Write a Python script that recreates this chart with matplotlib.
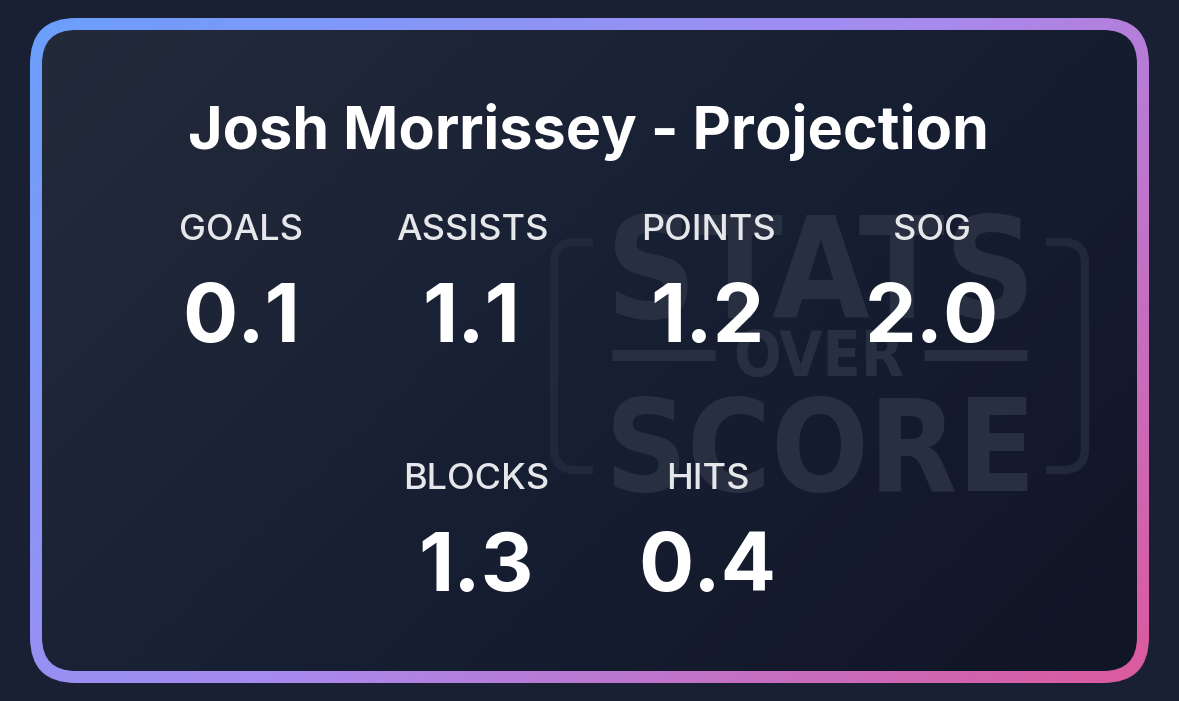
import matplotlib.pyplot as plt
from matplotlib.colors import LinearSegmentedColormap
from matplotlib.patches import FancyBboxPatch, PathPatch
from matplotlib.path import Path
import numpy as np

title = "Josh Morrissey - Projection"
labels_top = ["GOALS", "ASSISTS", "POINTS", "SOG"]
values_top = ["0.1", "1.1", "1.2", "2.0"]
labels_bottom = ["BLOCKS", "HITS"]
values_bottom = ["1.3", "0.4"]

W, H = 1179, 701
plt.rcParams['font.family'] = ['Inter', 'DejaVu Sans']

fig = plt.figure(figsize=(W / 100, H / 100), dpi=100, facecolor='#1a2033')
ax = fig.add_axes([0, 0, 1, 1])
ax.set_xlim(0, W)
ax.set_ylim(H, 0)
ax.axis('off')


def rounded(x0, y0, x1, y1, r):
    return FancyBboxPatch((x0 + r, y0 + r), x1 - x0 - 2 * r, y1 - y0 - 2 * r,
                          boxstyle=f"round,pad={r},rounding_size={r}",
                          linewidth=0, facecolor='none', transform=ax.transData)


def gradient(x0, y0, x1, y1, colors, z):
    # css style 135deg gradient
    xs, ys = np.meshgrid(np.linspace(0, x1 - x0, 400), np.linspace(0, y1 - y0, 300))
    t = (xs + ys) / ((x1 - x0) + (y1 - y0))
    cmap = LinearSegmentedColormap.from_list('g', colors)
    return ax.imshow(t, cmap=cmap, vmin=0, vmax=1, extent=(x0, x1, y1, y0),
                     aspect='auto', zorder=z, interpolation='bilinear')


# border
box = rounded(30, 18, 1149, 683, 46)
ax.add_patch(box)
im = gradient(30, 18, 1149, 683, [(0, '#6b9ffc'), (0.5, '#a78bf0'), (1, '#dc5a9e')], 1)
im.set_clip_path(box)

# card
inner = rounded(42, 30, 1137, 671, 34)
ax.add_patch(inner)
im2 = gradient(42, 30, 1137, 671, [(0, '#232b3b'), (0.5, '#171f33'), (1, '#111626')], 2)
im2.set_clip_path(inner)
ax.set_xlim(0, W)
ax.set_ylim(H, 0)

# watermark
wm = '#272f41'
ax.text(821, 318, "STATS", color=wm, fontsize=101, fontweight='bold', family='DejaVu Sans',
        stretch='condensed', ha='center', va='baseline', zorder=3)
ax.text(819, 376, "OVER", color=wm, fontsize=45, fontweight='bold', family='DejaVu Sans',
        stretch='condensed', ha='center', va='baseline', zorder=3)
ax.text(821, 491, "SCORE", color=wm, fontsize=92, fontweight='bold', family='DejaVu Sans',
        stretch='condensed', ha='center', va='baseline', zorder=3)
ax.plot([612, 715], [355, 355], color=wm, lw=8, solid_capstyle='butt', zorder=3)
ax.plot([924, 1027], [355, 355], color=wm, lw=8, solid_capstyle='butt', zorder=3)

# brackets around the logo
codes = [Path.MOVETO, Path.LINETO, Path.CURVE3, Path.CURVE3, Path.LINETO, Path.CURVE3, Path.CURVE3, Path.LINETO]
for verts in [[(593, 242), (576, 242), (554, 242), (554, 264), (554, 448), (554, 470), (576, 470), (593, 470)],
              [(1046, 242), (1063, 242), (1085, 242), (1085, 264), (1085, 448), (1085, 470), (1063, 470), (1046, 470)]]:
    ax.add_patch(PathPatch(Path(verts, codes), fill=False, edgecolor='#20283a', lw=6, zorder=3))

# text
ax.text(589, 149, title, color='white', fontsize=42.7, fontweight='bold',
        ha='center', va='baseline', zorder=5)

for label, value, x, vx in zip(labels_top, values_top, [241, 472, 708, 932], [241, 471, 707, 932]):
    ax.text(x, 240, label, color='#e5e7eb', fontsize=26, fontweight=500, ha='center', va='baseline', zorder=5)
    ax.text(vx, 342, value, color='white', fontsize=59, fontweight='bold', ha='center', va='baseline', zorder=5)

for label, value, x, vx in zip(labels_bottom, values_bottom, [476, 708], [476, 707]):
    ax.text(x, 489, label, color='#e5e7eb', fontsize=26, fontweight=500, ha='center', va='baseline', zorder=5)
    ax.text(vx, 591, value, color='white', fontsize=59, fontweight='bold', ha='center', va='baseline', zorder=5)

fig.savefig('out.png', dpi=100, facecolor=fig.get_facecolor())
